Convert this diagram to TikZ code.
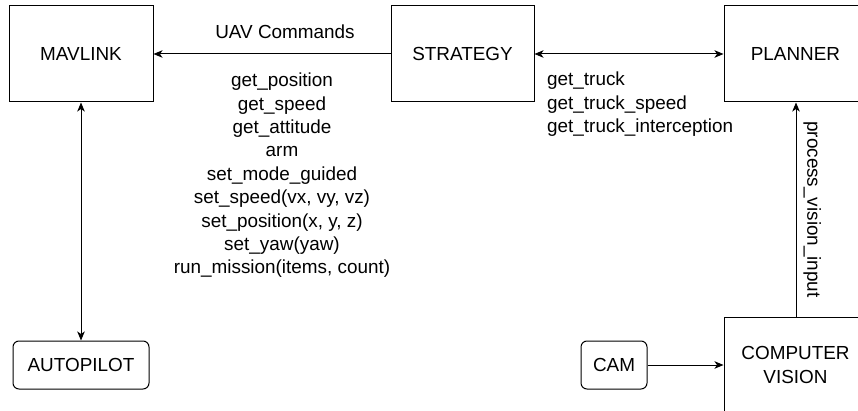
\documentclass[tikz,border=0pt]{standalone}
\usepackage{fontspec}
\setmainfont{Liberation Sans}
\usetikzlibrary{arrows.meta}
\begin{document}
\begin{tikzpicture}[x=1pt,y=-1pt,
  every node/.style={font=\fontsize{18.9}{23.4}\selectfont, inner sep=0pt},
  box/.style={draw, line width=1pt, minimum width=143pt, minimum height=96pt},
  rbox/.style={draw, line width=1pt, rounded corners=6pt, minimum height=48pt},
  conn/.style={line width=1pt, arrows={-Stealth[length=9pt,width=7.5pt,inset=2.5pt]}},
  biconn/.style={line width=1pt, arrows={Stealth[length=9pt,width=7.5pt,inset=2.5pt]-Stealth[length=9pt,width=7.5pt,inset=2.5pt]}},
  lbl/.style={align=center}
]
\useasboundingbox (0,0) rectangle (858,411);
\clip (0,0) rectangle (858,411);

\node[box, minimum width=144pt] (mav) at (81,54) {MAVLINK};
\node[box] (str) at (462.5,54) {STRATEGY};
\node[box] (pla) at (795.5,54) {PLANNER};
\node[rbox, minimum width=136pt] (auto) at (81,365) {AUTOPILOT};
\node[rbox, minimum width=66pt] (cam) at (614,365) {CAM};
\node[box, align=center] (cv) at (795.5,365) {COMPUTER\\VISION};

\draw[conn] (str) -- (mav) node[midway, above=15pt, xshift=13pt] (uav) {UAV Commands};
\draw[biconn] (str) -- (pla);
\draw[biconn] (mav) -- (auto);
\draw[conn] (cam) -- (cv);
\draw[conn] (cv.north -| 796,0) -- (pla.south -| 796,0) node[midway, right=7pt, rotate=-90, anchor=south] (pvi) {process\_vision\_input};

\node[lbl] (cmds) at (282,175.5) {get\_position\\get\_speed\\get\_attitude\\arm\\set\_mode\_guided\\set\_speed(vx, vy, vz)\\set\_position(x, y, z)\\set\_yaw(yaw)\\run\_mission(items, count)};
\node[align=left, anchor=west] (truck) at (547,104.5) {get\_truck\\get\_truck\_speed\\get\_truck\_interception};
\end{tikzpicture}
\end{document}
